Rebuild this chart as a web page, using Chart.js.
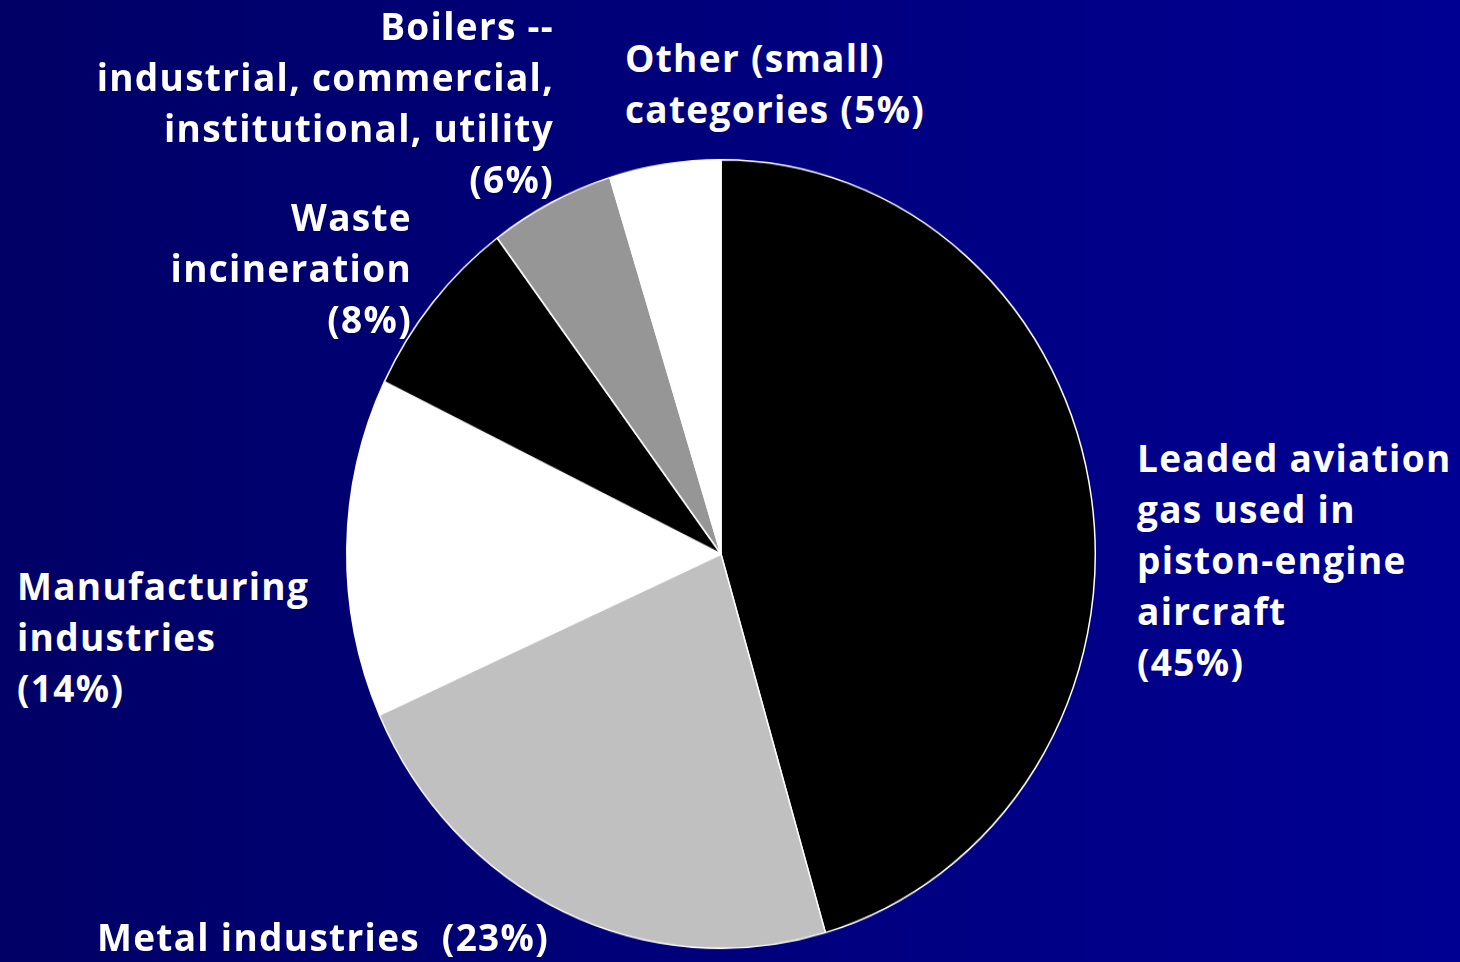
<!DOCTYPE html>
<html>
<head>
<meta charset="utf-8">
<script src="https://cdn.jsdelivr.net/npm/chart.js@4.4.0/dist/chart.umd.min.js"></script>
<style>
  html, body { margin: 0; padding: 0; }
  body {
    width: 1460px; height: 962px; overflow: hidden; position: relative;
    background: linear-gradient(to right, #000066, #000093);
    font-family: "Open Sans", "Lato", sans-serif; font-weight: bold; color: #fff;
  }
  #wrap {
    position: absolute; left: 341px; top: 174px; width: 760px; height: 760px;
    transform: scaleY(1.0535); transform-origin: 50% 50%;
  }
  .lbl { position: absolute; font-size: 37px; line-height: 51px; letter-spacing: 1.3px; white-space: nowrap; }
  .r { text-align: right; }
</style>
</head>
<body>
<div id="wrap"><canvas id="pie" width="760" height="760"></canvas></div>
<div id="labels"></div>
<script>
// slice order: clockwise from 12 o'clock
var categories = ['Leaded aviation gas used in piston-engine aircraft', 'Metal industries',
  'Manufacturing industries', 'Waste incineration',
  'Boilers -- industrial, commercial, institutional, utility', 'Other (small) categories'];
var shares = [45.5, 22.8, 13.9, 7.6, 5.4, 4.8];
var sliceColors = ['#000000', '#c0c0c0', '#ffffff', '#000000', '#969696', '#ffffff'];

// label text, as printed on the slide
var labelLines = [
  ['Leaded aviation', 'gas used in', 'piston-engine', 'aircraft', '(45%)'],
  ['Metal industries\u00a0\u00a0(23%)'],
  ['Manufacturing', 'industries', '(14%)'],
  ['Waste', 'incineration', '(8%)'],
  ['Boilers --', 'industrial, commercial,', 'institutional, utility', '(6%)'],
  ['Other (small)', 'categories (5%)']
];
// [x, top, align]
var labelPos = [
  [1137, 432, 'l'],
  [97, 911, 'l'],
  [17, 560, 'l'],
  [412, 191, 'r'],
  [554, 0, 'r'],
  [625, 32, 'l']
];

var box = document.getElementById('labels');
labelLines.forEach(function(lines, i) {
  var d = document.createElement('div');
  d.className = 'lbl' + (labelPos[i][2] == 'r' ? ' r' : '');
  d.innerHTML = lines.join('<br>');
  d.style.top = labelPos[i][1] + 'px';
  if (labelPos[i][2] == 'r') d.style.right = (1460 - labelPos[i][0]) + 'px';
  else d.style.left = labelPos[i][0] + 'px';
  box.appendChild(d);
});

var ctx = document.getElementById('pie').getContext('2d');
var pieChart = new Chart(ctx, {
  type: 'pie',
  data: {
    labels: categories,
    datasets: [{
      data: shares,
      backgroundColor: sliceColors,
      borderColor: '#ffffff',
      borderWidth: 1.5
    }]
  },
  options: {
    responsive: false,
    animation: false,
    layout: { padding: 5 },
    plugins: { legend: { display: false }, tooltip: { enabled: false } }
  }
});
</script>
</body>
</html>
